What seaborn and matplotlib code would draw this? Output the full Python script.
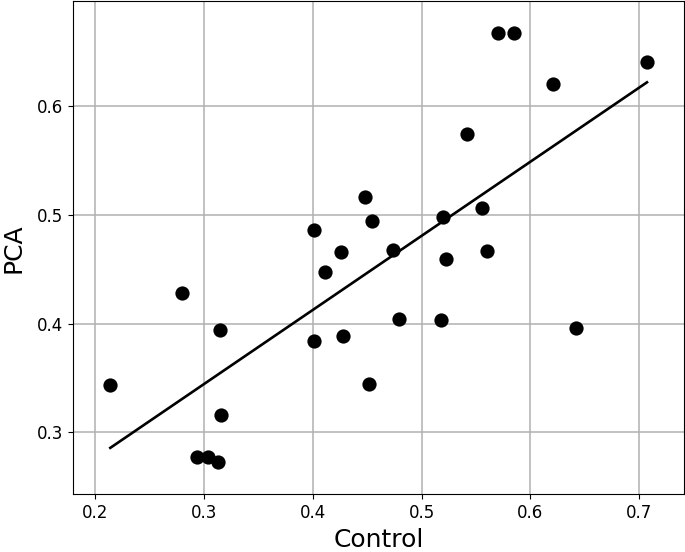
import pandas as pd
import numpy as np

# visualization
import matplotlib
matplotlib.use("Agg")
import matplotlib.pyplot as plt
import seaborn as sns

control = [0.214, 0.280, 0.315, 0.316, 0.294, 0.304, 0.313, 0.401, 0.401, 0.411,
           0.426, 0.428, 0.448, 0.454, 0.452, 0.474, 0.479, 0.518, 0.520, 0.522,
           0.542, 0.555, 0.560, 0.570, 0.585, 0.621, 0.642, 0.707]
pca = [0.344, 0.428, 0.394, 0.316, 0.277, 0.277, 0.273, 0.486, 0.384, 0.448,
       0.466, 0.389, 0.517, 0.495, 0.345, 0.468, 0.404, 0.403, 0.498, 0.460,
       0.575, 0.507, 0.467, 0.668, 0.668, 0.621, 0.396, 0.641]

df = pd.DataFrame({"Control": control, "PCA": pca})

# least squares fit over the data range
slope, intercept = np.polyfit(df["Control"], df["PCA"], 1)
fit = pd.DataFrame({"Control": [df["Control"].min(), df["Control"].max()]})
fit["PCA"] = slope * fit["Control"] + intercept

fig, ax = plt.subplots(figsize=(6.85, 5.52), dpi=100)
fig.subplots_adjust(left=0.107, right=0.9985, top=0.998, bottom=0.1045)

sns.scatterplot(data=df, x="Control", y="PCA", color="black", s=105, linewidth=0, ax=ax, zorder=3)
sns.lineplot(data=fit, x="Control", y="PCA", color="black", linewidth=1.9, ax=ax, zorder=2)

ax.set_xlim(0.180, 0.741)
ax.set_ylim(0.243, 0.697)
ax.set_xticks([0.2, 0.3, 0.4, 0.5, 0.6, 0.7])
ax.set_yticks([0.3, 0.4, 0.5, 0.6])
ax.grid(True, color="#b0b0b0", linewidth=1.1)
ax.set_axisbelow(True)
ax.tick_params(labelsize=12)
ax.set_xlabel("Control", fontsize=18, labelpad=4.5)
ax.set_ylabel("PCA", fontsize=18, labelpad=8.5)

plt.savefig("out.png", dpi=100)
